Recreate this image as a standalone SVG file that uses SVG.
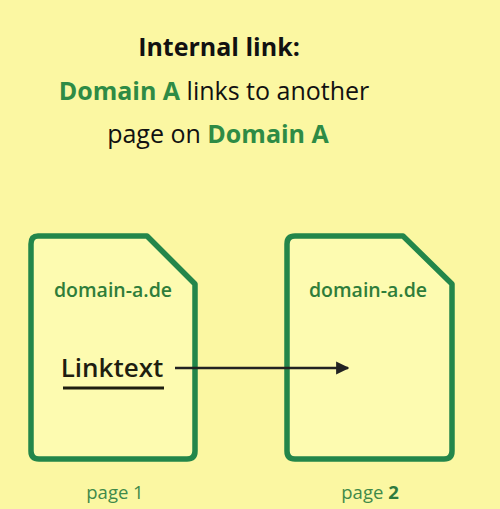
<svg xmlns="http://www.w3.org/2000/svg" width="500" height="509" viewBox="0 0 500 509">
<defs>
<style>
.page{fill:#fdfbb0;stroke:#23864a;stroke-width:5.5;stroke-linejoin:round}
.dom{font-family:"Open Sans","Liberation Sans",sans-serif;font-size:19.5px;font-weight:600;fill:#2f7d3a;text-anchor:middle}
.lbl{font-family:"Open Sans","Liberation Sans",sans-serif;font-size:18.5px;fill:#3f8a4a;text-anchor:middle}
.hd{font-family:"Open Sans","Liberation Sans",sans-serif;font-size:25px;fill:#111;text-anchor:middle}
.g{fill:#2e8b45;font-weight:700}
</style>
<marker id="ah" viewBox="0 0 10 10" refX="9" refY="5" markerWidth="5.5" markerHeight="5.5" orient="auto"><path d="M0,0 L10,5 L0,10 z" fill="#222"/></marker>
</defs>
<rect width="500" height="509" fill="#fbf7a2"/>
<g id="title">
<text class="hd" x="219" y="56" font-weight="700" font-size="24.5">Internal link:</text>
<text class="hd" x="214" y="100"><tspan class="g">Domain A</tspan> links to another</text>
<text class="hd" x="218" y="143">page on <tspan class="g">Domain A</tspan></text>
</g>
<g id="page1">
<path class="page" d="M38,236 H147 L195,284 V451 Q195,459 187,459 H39 Q31,459 31,451 V244 Q31,236 38,236 Z"/>
<text class="dom" x="113" y="297">domain-a.de</text>
<text x="112" y="377" font-family="Open Sans,Liberation Sans,sans-serif" font-size="26" font-weight="600" fill="#1e1e10" text-anchor="middle">Linktext</text>
<line x1="63" y1="388" x2="164" y2="388" stroke="#1e1e10" stroke-width="3"/>
<text class="lbl" x="115" y="499">page 1</text>
</g>
<g id="page2">
<path class="page" d="M295,236 H403 L452,284 V451 Q452,459 444,459 H295 Q287,459 287,451 V244 Q287,236 295,236 Z"/>
<text class="dom" x="368" y="297">domain-a.de</text>
<text class="lbl" x="370" y="499">page <tspan font-weight="700" fill="#2e7a3e">2</tspan></text>
</g>
<g id="connectors">
<line x1="175" y1="368" x2="348" y2="368" stroke="#222" stroke-width="2.4" marker-end="url(#ah)"/>
</g>
</svg>
